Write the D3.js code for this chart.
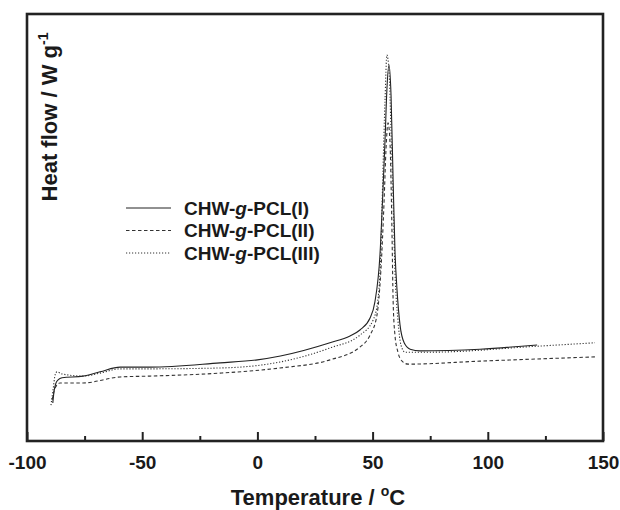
<!DOCTYPE html>
<html><head><meta charset="utf-8">
<script src="https://cdn.jsdelivr.net/npm/d3@7"></script>
<style>body{margin:0;background:#fff;}text{font-family:"Liberation Sans",Arial,sans-serif;font-weight:bold;fill:#1a1a1a;}</style>
</head><body><svg id="c" width="620" height="510"></svg>
<script>
// Temperature (°C) and heat flow (arbitrary units, W/g scale without ticks)
const tempI = [-88.8,-88.3,-87.4,-86.5,-84.8,-75.7,-68.3,-59.6,-46.6,-16.2,0,10,31.5,40.2,44.5,48.9,51.0,53.2,54.5,55.4,56.2,57.1,58.0,58.9,59.7,60.6,61.9,63.7,66.3,70.6,96.6,121.4];
const flowI = [0.89,1.15,1.36,1.43,1.48,1.52,1.62,1.73,1.73,1.83,1.90,1.99,2.30,2.46,2.60,2.88,3.26,4.36,5.88,7.05,8.22,8.81,8.10,6.11,4.47,3.54,2.72,2.30,2.15,2.11,2.15,2.25];
const tempII = [-89.1,-87.8,-85.7,-75.7,-59.6,-46.6,-16.2,9.8,31.5,44.5,48.9,51.9,53.6,55.0,55.8,56.7,57.5,58.4,58.9,59.7,61.0,62.8,65.4,96.6,146.5];
const flowII = [0.96,1.24,1.36,1.36,1.50,1.52,1.59,1.71,1.90,2.20,2.48,2.95,4.00,5.64,6.81,7.45,7.05,4.94,3.30,2.48,2.08,1.87,1.80,1.87,1.97];
const tempIII = [-89.6,-88.7,-87.8,-87.0,-84.8,-75.7,-68.3,-59.6,-46.6,-16.2,9.8,31.5,44.5,50.2,52.3,53.6,54.5,55.4,56.2,57.1,58.0,58.9,59.7,61.0,62.3,64.1,74.9,121.4,146.5];
const flowIII = [0.84,1.19,1.55,1.62,1.57,1.52,1.59,1.69,1.69,1.71,1.85,2.18,2.48,2.83,3.30,4.47,6.35,7.99,9.04,8.69,7.28,5.64,4.00,2.83,2.25,2.08,2.08,2.22,2.30];
const seriesNames = ["CHW-g-PCL(I)","CHW-g-PCL(II)","CHW-g-PCL(III)"];
const majorTicks = [-100,-50,0,50,100,150];
const minorTicks = [-75,-25,25,75,125];

const svg = d3.select("#c");
const L=27,T=14,R=603,B=441;
const x = d3.scaleLinear().domain([-100,150]).range([L,R]);
const y = d3.scaleLinear().domain([0,10]).range([B,T]);

const styles = [
  {dash:null, w:1.1, c:"#222"},
  {dash:"3.5,2.5", w:1.1, c:"#333"},
  {dash:"1.2,1.8", w:1.1, c:"#333"}
];
const data = [[tempI,flowI],[tempII,flowII],[tempIII,flowIII]];
const line = d3.line().x(d=>x(d[0])).y(d=>y(d[1])).curve(d3.curveMonotoneX);
data.forEach((s,i)=>{
  const pts = s[0].map((t,k)=>[t,s[1][k]]);
  svg.append("path").attr("d",line(pts)).attr("fill","none")
    .attr("stroke",styles[i].c).attr("stroke-width",styles[i].w)
    .attr("stroke-dasharray",styles[i].dash);
});

// axes
const gx = svg.append("g").attr("transform",`translate(0,${B})`)
  .call(d3.axisBottom(x).tickValues(majorTicks).tickSizeInner(-9).tickSizeOuter(0).tickPadding(15).tickFormat(d=>String(d)));
gx.select(".domain").remove();
gx.selectAll(".tick line").attr("stroke","#222").attr("stroke-width",2);
gx.selectAll(".tick text").attr("font-size",19).attr("font-family","Liberation Sans, Arial, sans-serif").attr("font-weight","bold").attr("fill","#1a1a1a");
const gm = svg.append("g").attr("transform",`translate(0,${B})`)
  .call(d3.axisBottom(x).tickValues(minorTicks).tickSizeInner(-5).tickSizeOuter(0).tickFormat(""));
gm.select(".domain").remove();
gm.selectAll(".tick line").attr("stroke","#222").attr("stroke-width",2);

svg.append("rect").attr("x",L).attr("y",T).attr("width",R-L).attr("height",B-T)
  .attr("fill","none").attr("stroke","#222").attr("stroke-width",2.6);

// axis titles
const xt = svg.append("text").attr("x",(L+R)/2+3).attr("y",505).attr("text-anchor","middle").attr("font-size",22);
xt.append("tspan").text("Temperature / ");
xt.append("tspan").attr("font-size",14).attr("dy",-9).text("o");
xt.append("tspan").attr("dy",9).text("C");

const yt = svg.append("text").attr("transform","translate(57,117) rotate(-90)").attr("text-anchor","middle").attr("font-size",22);
yt.append("tspan").text("Heat flow / W g");
yt.append("tspan").attr("font-size",14).attr("dy",-9).text("-1");

// legend
const lg = svg.append("g");
seriesNames.forEach((n,i)=>{
  const yy = 208 + i*22.5;
  lg.append("line").attr("x1",126).attr("x2",171).attr("y1",yy).attr("y2",yy)
    .attr("stroke",styles[i].c).attr("stroke-width",1).attr("stroke-dasharray",styles[i].dash);
  const t = lg.append("text").attr("x",184).attr("y",yy+6.5).attr("font-size",19);
  t.append("tspan").text("CHW-");
  t.append("tspan").attr("font-style","italic").text("g");
  t.append("tspan").text("-PCL(" + ["I","II","III"][i] + ")");
});
</script></body></html>
